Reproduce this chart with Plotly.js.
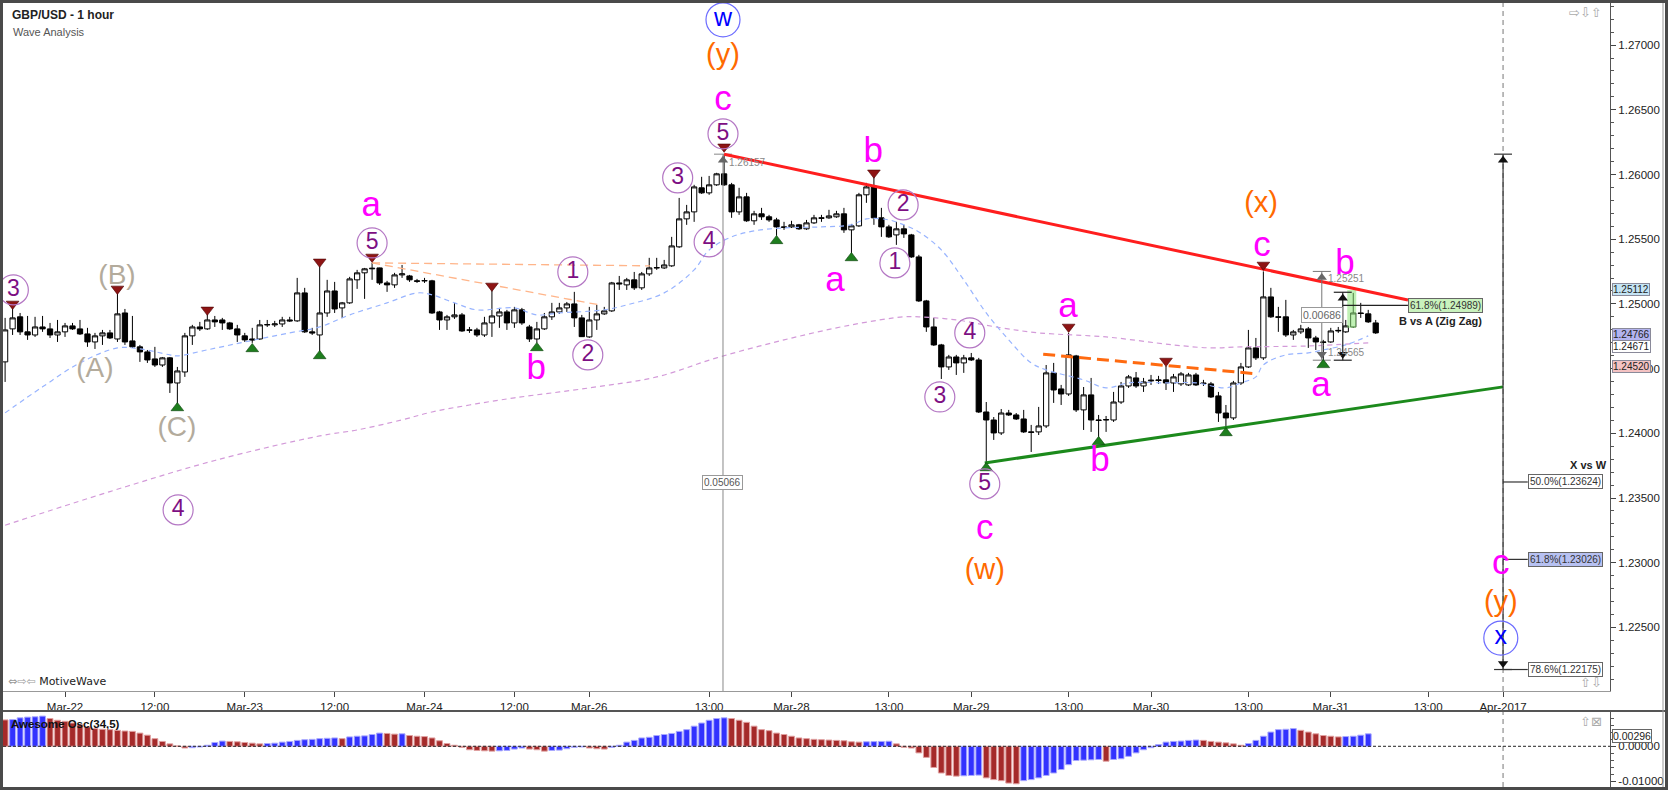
<!DOCTYPE html>
<html><head><meta charset="utf-8">
<script src="https://cdn.plot.ly/plotly-3.0.1.min.js"></script>
<style>html,body{margin:0;padding:0;background:#fff;overflow:hidden}#chart{width:1668px;height:790px}</style>
</head><body><div id="chart"></div>
<script>
// ---------- DATA ----------
const firstBar = -8; // bar index of first candle (hourly bars, 0 = Mar-22 00:00)
const opens = [1.24552,1.24807,1.24900,1.24784,1.24760,1.24822,1.24807,1.24760,1.24784,1.24830,1.24807,1.24768,1.24706,1.24753,1.24776,1.24729,1.24930,1.24714,1.24668,1.24629,1.24575,1.24528,1.24583,1.24389,1.24474,1.24753,1.24822,1.24807,1.24876,1.24876,1.24853,1.24807,1.24753,1.24729,1.24729,1.24838,1.24838,1.24845,1.24876,1.24869,1.25085,1.24784,1.24760,1.24930,1.25100,1.24969,1.25008,1.25186,1.25240,1.25271,1.25278,1.25162,1.25147,1.25224,1.25216,1.25178,1.25178,1.25178,1.24938,1.24876,1.24900,1.24915,1.24799,1.24799,1.24760,1.24853,1.24907,1.24938,1.24853,1.24954,1.24822,1.24729,1.24807,1.24900,1.24938,1.24969,1.25000,1.24892,1.24745,1.24876,1.24923,1.24946,1.25162,1.25147,1.25186,1.25124,1.25232,1.25278,1.25278,1.25294,1.25441,1.25657,1.25711,1.25897,1.25858,1.25920,1.26005,1.25920,1.25711,1.25827,1.25642,1.25696,1.25673,1.25649,1.25595,1.25595,1.25611,1.25580,1.25626,1.25665,1.25665,1.25673,1.25696,1.25572,1.25603,1.25843,1.25904,1.25665,1.25595,1.25533,1.25580,1.25533,1.25363,1.25023,1.24822,1.24683,1.24513,1.24590,1.24544,1.24583,1.24567,1.24165,1.24103,1.24003,1.24157,1.24142,1.24111,1.24011,1.24011,1.24057,1.24467,1.24343,1.24304,1.24598,1.24181,1.24297,1.24103,1.24103,1.24103,1.24242,1.24366,1.24428,1.24366,1.24405,1.24413,1.24413,1.24389,1.24382,1.24374,1.24451,1.24389,1.24382,1.24289,1.24157,1.24119,1.24389,1.24513,1.24660,1.24583,1.25054,1.24900,1.24900,1.24760,1.24784,1.24807,1.24737,1.24706,1.24706,1.24791,1.24784,1.24822,1.24930,1.24923,1.24853];
const highs = [1.24892,1.24969,1.24930,1.24907,1.24900,1.24907,1.24853,1.24876,1.24853,1.24853,1.24876,1.24815,1.24776,1.24799,1.24799,1.25108,1.24961,1.24907,1.24683,1.24644,1.24668,1.24590,1.24590,1.24513,1.24776,1.24838,1.24861,1.24930,1.24907,1.24892,1.24861,1.24838,1.24776,1.24815,1.24876,1.24876,1.24869,1.24900,1.24900,1.25201,1.25124,1.24815,1.25301,1.25186,1.25170,1.25015,1.25209,1.25263,1.25278,1.25317,1.25280,1.25178,1.25240,1.25301,1.25224,1.25193,1.25201,1.25186,1.24946,1.24915,1.25008,1.24930,1.24822,1.24815,1.24900,1.25124,1.24969,1.24954,1.24977,1.24969,1.24838,1.24861,1.24930,1.25008,1.25008,1.25015,1.25093,1.24915,1.24977,1.24992,1.24977,1.25170,1.25216,1.25201,1.25247,1.25247,1.25356,1.25356,1.25340,1.25518,1.25819,1.25765,1.25920,1.25982,1.25989,1.26013,1.26157,1.25935,1.25897,1.25858,1.25719,1.25742,1.25688,1.25665,1.25634,1.25642,1.25618,1.25649,1.25688,1.25688,1.25727,1.25719,1.25742,1.25618,1.25858,1.25935,1.25982,1.25742,1.25611,1.25634,1.25611,1.25541,1.25379,1.25031,1.24892,1.24691,1.24606,1.24606,1.24606,1.24621,1.24583,1.24242,1.24126,1.24188,1.24181,1.24157,1.24181,1.24065,1.24204,1.24528,1.24544,1.24374,1.24776,1.24606,1.24358,1.24428,1.24142,1.24134,1.24320,1.24397,1.24451,1.24474,1.24428,1.24451,1.24444,1.24521,1.24459,1.24474,1.24467,1.24467,1.24413,1.24397,1.24320,1.24219,1.24405,1.24544,1.24799,1.24737,1.25251,1.25124,1.24977,1.25031,1.24799,1.24838,1.24822,1.24753,1.24722,1.24815,1.24822,1.24876,1.25085,1.25008,1.24954,1.24876];
const lows = [1.24397,1.24760,1.24760,1.24722,1.24745,1.24784,1.24737,1.24706,1.24745,1.24799,1.24760,1.24668,1.24652,1.24683,1.24729,1.24706,1.24683,1.24660,1.24552,1.24544,1.24513,1.24513,1.24312,1.24204,1.24436,1.24683,1.24791,1.24799,1.24822,1.24799,1.24799,1.24706,1.24706,1.24699,1.24722,1.24822,1.24822,1.24822,1.24861,1.24861,1.24776,1.24760,1.24621,1.24900,1.24930,1.24892,1.25000,1.25116,1.25039,1.25186,1.25147,1.25093,1.25124,1.25201,1.25170,1.25162,1.25162,1.24923,1.24799,1.24799,1.24884,1.24784,1.24776,1.24745,1.24745,1.24745,1.24815,1.24799,1.24815,1.24838,1.24706,1.24699,1.24799,1.24876,1.24923,1.24938,1.24822,1.24745,1.24737,1.24799,1.24915,1.24938,1.25108,1.25108,1.25108,1.25108,1.25216,1.25263,1.25270,1.25286,1.25433,1.25611,1.25634,1.25850,1.25843,1.25912,1.25912,1.25665,1.25688,1.25634,1.25611,1.25649,1.25634,1.25526,1.25572,1.25587,1.25572,1.25572,1.25618,1.25634,1.25657,1.25665,1.25549,1.25363,1.25595,1.25781,1.25611,1.25518,1.25510,1.25456,1.25510,1.25356,1.25015,1.24784,1.24675,1.24420,1.24490,1.24451,1.24467,1.24559,1.24157,1.23763,1.23949,1.23987,1.24134,1.24103,1.24003,1.23856,1.23987,1.24041,1.24235,1.24219,1.24289,1.24165,1.24026,1.24011,1.23972,1.24011,1.24088,1.24227,1.24351,1.24351,1.24320,1.24374,1.24382,1.24335,1.24320,1.24366,1.24366,1.24366,1.24366,1.24273,1.24088,1.24049,1.24103,1.24374,1.24505,1.24567,1.24567,1.24892,1.24784,1.24745,1.24722,1.24768,1.24660,1.24644,1.24565,1.24699,1.24776,1.24776,1.24815,1.24892,1.24853,1.24768];
const closes = [1.24799,1.24892,1.24784,1.24760,1.24822,1.24807,1.24760,1.24784,1.24830,1.24807,1.24768,1.24706,1.24753,1.24776,1.24737,1.24923,1.24706,1.24668,1.24629,1.24567,1.24528,1.24583,1.24389,1.24482,1.24753,1.24822,1.24807,1.24876,1.24861,1.24853,1.24807,1.24760,1.24722,1.24722,1.24838,1.24840,1.24845,1.24876,1.24869,1.25085,1.24784,1.24776,1.24930,1.25100,1.24961,1.25008,1.25193,1.25240,1.25271,1.25275,1.25162,1.25147,1.25224,1.25232,1.25186,1.25175,1.25180,1.24930,1.24876,1.24900,1.24915,1.24791,1.24797,1.24760,1.24853,1.24907,1.24938,1.24853,1.24954,1.24853,1.24729,1.24807,1.24900,1.24938,1.24969,1.25000,1.24892,1.24747,1.24876,1.24923,1.24946,1.25162,1.25155,1.25186,1.25124,1.25232,1.25278,1.25280,1.25301,1.25448,1.25657,1.25711,1.25904,1.25858,1.25920,1.26005,1.25920,1.25711,1.25827,1.25642,1.25696,1.25673,1.25649,1.25595,1.25592,1.25611,1.25580,1.25626,1.25665,1.25662,1.25680,1.25696,1.25572,1.25603,1.25843,1.25904,1.25665,1.25595,1.25518,1.25580,1.25541,1.25363,1.25023,1.24822,1.24683,1.24513,1.24590,1.24544,1.24583,1.24567,1.24165,1.24103,1.24003,1.24157,1.24142,1.24111,1.24011,1.24008,1.24057,1.24467,1.24335,1.24304,1.24606,1.24181,1.24297,1.24103,1.24100,1.24106,1.24242,1.24366,1.24436,1.24366,1.24397,1.24410,1.24408,1.24389,1.24436,1.24459,1.24451,1.24374,1.24385,1.24281,1.24157,1.24119,1.24389,1.24513,1.24660,1.24583,1.25054,1.24900,1.24897,1.24760,1.24784,1.24807,1.24737,1.24706,1.24703,1.24791,1.24795,1.24830,1.24930,1.24926,1.24861,1.24776];

// Awesome Oscillator (34,5), bars from firstBar
const aoValues = [0.0076,0.0077,0.0082,0.0084,0.0085,0.0087,0.0080,0.0075,0.0072,
0.0067,0.0062,0.0056,0.0051,0.0049,0.0048,0.0046,0.0044,0.0043,0.0038,
0.0032,0.0022,0.0014,0.0007,0.0001,-0.0005,-0.0004,-0.0002,0.0003,0.0011,
0.0015,0.0014,0.0013,0.0011,0.0009,0.0007,0.0008,0.0009,0.0012,0.0014,
0.0017,0.0019,0.0020,0.0022,0.0023,0.0024,0.0022,0.0027,0.0029,0.0030,
0.0034,0.0038,0.0037,0.0035,0.0036,0.0031,0.0029,0.0028,0.0024,0.0016,
0.0008,0.0003,-0.0003,-0.0010,-0.0012,-0.0013,-0.0014,-0.0013,-0.0012,-0.0008,
-0.0005,-0.0008,-0.0010,-0.0014,-0.0012,-0.0011,-0.0007,-0.0003,-0.0002,-0.0005,
-0.0007,-0.0008,-0.0003,0.0003,0.0012,0.0017,0.0024,0.0026,0.0031,0.0034,
0.0037,0.0043,0.0048,0.0058,0.0067,0.0075,0.0080,0.0082,0.0080,0.0075,
0.0069,0.0058,0.0048,0.0045,0.0038,0.0034,0.0029,0.0024,0.0022,0.0020,
0.0019,0.0018,0.0017,0.0016,0.0013,0.0012,0.0013,0.00135,0.0014,0.00145,
0.0007,-0.0003,-0.0005,-0.0019,-0.0032,-0.0061,-0.0077,-0.0084,-0.0086,-0.0085,
-0.0084,-0.0083,-0.0091,-0.0096,-0.0099,-0.0106,-0.0108,-0.0099,-0.0096,-0.0091,
-0.0084,-0.0077,-0.0067,-0.0053,-0.0041,-0.0040,-0.0039,-0.0038,-0.0043,-0.0038,
-0.0036,-0.0029,-0.0019,-0.0010,-0.0004,0.0005,0.0012,0.0014,0.0015,0.0017,
0.0018,0.0017,0.0014,0.0012,0.0010,0.0007,0.0003,0.0008,0.0017,0.0029,
0.0041,0.0048,0.0049,0.0051,0.0046,0.0041,0.0036,0.0031,0.0029,0.0027,
0.0028,0.0029,0.0032,0.0036];

// moving averages (bar, price)
const maFastT = [-8,-3,2,7,10,14,15,19,24,30,34,38,43,47,49,52,55,60,63,66,72,75,80,84,86,89,92,96,101,105,107,110,112,114,117,120,123,126,129,131,136,139,142,147,151,155,157,159,160,163,166,168,171,174];
const maFastP = [1.24158,1.24359,1.24544,1.24660,1.24652,1.24606,1.24598,1.24645,1.24706,1.24776,1.24822,1.24915,1.25008,1.25085,1.25070,1.25008,1.24954,1.24969,1.24915,1.24930,1.24954,1.24992,1.25085,1.25263,1.25417,1.25518,1.25564,1.25587,1.25595,1.25611,1.25657,1.25649,1.25611,1.25556,1.25417,1.25185,1.24930,1.24722,1.24544,1.24490,1.24413,1.24351,1.24390,1.24390,1.24390,1.24351,1.24390,1.24436,1.24529,1.24606,1.24621,1.24645,1.24683,1.24753];
const maSlowT = [-8,6,20,34,39,45,49,54,60,70,79,87,96,105,112,114,119,125,130,139,148,153,157,166,174];
const maSlowP = [1.2329,1.2355,1.2379,1.2398,1.24026,1.24104,1.24165,1.24219,1.24274,1.24351,1.24436,1.24583,1.24722,1.24838,1.24900,1.24900,1.24876,1.24815,1.24776,1.24745,1.24683,1.24660,1.24668,1.24675,1.24699];

// time axis
const tickBars = [0,12,24,36,48,60,70,86,97,110,121,134,145,158,169,182,192];
const tickLabels = ['Mar-22','12:00','Mar-23','12:00','Mar-24','12:00','Mar-26','13:00','Mar-28','13:00','Mar-29','13:00','Mar-30','13:00','Mar-31','13:00','Apr-2017'];

// trend lines (bar, price)
const redLineT = [88, 179.3], redLineP = [1.26157, 1.25030];
const greenLineT = [122.8, 192], greenLineP = [1.23771, 1.24359];
const orangeLineT = [130.6, 159.3], orangeLineP = [1.24611, 1.24459];
const paleOrange1T = [41, 78.1], paleOrange1P = [1.25317, 1.25294];
const paleOrange2T = [41, 71.4], paleOrange2P = [1.25317, 1.24992];

// swing markers
const topMarkT = [-7,7,19,34,41,57,88,108,134,147,160];
const topMarkP = [1.25000,1.25116,1.24954,1.25325,1.25363,1.25139,1.26214,1.26013,1.24822,1.24559,1.25301];
const botMarkT = [15,25,34,63,95,105,123,138,155,168];
const botMarkP = [1.24196,1.24652,1.24598,1.24660,1.25487,1.25355,1.23732,1.23934,1.24003,1.24529];

// wave labels
const circT = [-6.9,15.1,41,67.8,69.8,81.8,86,87.85,111.9,110.8,120.8,116.8,122.8];
const circP = [1.25108,1.23408,1.25471,1.25247,1.24606,1.25974,1.25479,1.26314,1.25765,1.25317,1.24776,1.24281,1.23609];
const circText = ['3','4','5','1','2','3','4','5','2','1','4','3','5'];
const bigCircT = [87.85,191.7], bigCircP = [1.27195,1.22418], bigCircText = ['w','x'];
const minorT = [40.9,62.9,87.85,107.9,102.8,122.8,133.9,138.2,159.8,170.9,167.7,191.7];
const minorP = [1.25750,1.24490,1.26569,1.26167,1.25170,1.23254,1.24969,1.23779,1.25441,1.25301,1.24358,1.22983];
const minorText = ['a','b','c','b','a','c','a','b','c','b','a','c'];
const interT = [87.85,122.8,159.7,191.7], interP = [1.26909,1.22929,1.25765,1.22681];
const interText = ['(y)','(w)','(x)','(y)'];
const primT = [6.94,4.0,14.95], primP = [1.25209,1.24490,1.24030], primText = ['(B)','(A)','(C)'];

// measurements
const peakBar = 87.85, peakPrice = 1.26157, peakRange = '0.05066', peakRangeP = 1.23617;
const xwBar = 192, xwTop = 1.26157, xwBottom = 1.22175;
const fibP = [1.23624,1.23026,1.22175], fibText = ['50.0%(1.23624)','61.8%(1.23026)','78.6%(1.22175)'];
const zzBar = 167.8, zzTop = 1.25251, zzBottom = 1.24565, zzRange = '0.00686', zzRangeP = 1.24915;
const bBar = 170.6, bTop = 1.25090, bBottom = 1.24565, bLevel = 1.24989, bLabelBar = 179.3;
const bZoneT = [171.2,172.4], bZoneP = [1.24815,1.25108];
const priceMarks = [1.25112,1.24766,1.24671,1.24520];
const aoMark = 0.00296;

// ---------- LAYOUT HELPERS ----------
const W = 1668, H = 790, L = 3, R = 1610, T = 3, B = 787;
const X = px => (px - L) / (R - L);
const Y = py => (B - py) / (B - T);
const yMin = 1.22009, yMax = 1.27325;
const tMin = -8.28, tMax = 206.28;
const pxP = (yMax - yMin) / 688;   // price per pixel in main panel
const capW = 1.2;                  // half cap width in bars
const FONT = 'Liberation Sans, Arial, sans-serif';

const bars = opens.map((_, i) => firstBar + i);
const aoBars = aoValues.map((_, i) => firstBar + i);
const aoColors = aoValues.map((v, i) => (i > 0 && v > aoValues[i - 1]) ? '#3232ff' : '#a52a2a');
const aoLine = aoValues.map((v, i) => (i > 0 && v > aoValues[i - 1]) ? '#a8a8ff' : '#e0a0a0');

function seg(list) { const x = [], y = []; list.forEach(s => { x.push(s[0], s[2], null); y.push(s[1], s[3], null); }); return {x, y}; }

const traces = [];
traces.push({type:'scatter', mode:'lines', x:maSlowT, y:maSlowP, line:{color:'#d39ad9', width:1.2, dash:'5px,4px', shape:'spline'}, hoverinfo:'skip'});
traces.push({type:'scatter', mode:'lines', x:maFastT, y:maFastP, line:{color:'#98b4ff', width:1.2, dash:'5px,4px', shape:'spline'}, hoverinfo:'skip'});
traces.push({type:'scatter', mode:'lines', x:paleOrange1T.concat([null]).concat(paleOrange2T), y:paleOrange1P.concat([null]).concat(paleOrange2P), line:{color:'#ffb58a', width:1.3, dash:'8px,5px'}, hoverinfo:'skip'});
// peak vertical measure
const pv = seg([[peakBar, peakPrice, peakBar, yMin], [peakBar - capW, peakPrice, peakBar + capW, peakPrice]]);
traces.push({type:'scatter', mode:'lines', x:pv.x, y:pv.y, line:{color:'#888', width:1}, hoverinfo:'skip'});
traces.push({type:'candlestick', x:bars, open:opens, high:highs, low:lows, close:closes,
  increasing:{line:{color:'#000', width:1}, fillcolor:'#ffffff'},
  decreasing:{line:{color:'#000', width:1}, fillcolor:'#000000'},
  whiskerwidth:0, hoverinfo:'skip', xaxis:'x', yaxis:'y'});
// zone highlight
traces.push({type:'scatter', mode:'lines', x:[bZoneT[0],bZoneT[1],bZoneT[1],bZoneT[0],bZoneT[0]], y:[bZoneP[0],bZoneP[0],bZoneP[1],bZoneP[1],bZoneP[0]], fill:'toself', fillcolor:'rgba(140,230,120,0.55)', line:{width:0}, hoverinfo:'skip'});
// trend lines
traces.push({type:'scatter', mode:'lines', x:redLineT, y:redLineP, line:{color:'#ff1e1e', width:3}, hoverinfo:'skip'});
traces.push({type:'scatter', mode:'lines', x:greenLineT, y:greenLineP, line:{color:'#1c8a1c', width:3}, hoverinfo:'skip'});
traces.push({type:'scatter', mode:'lines', x:orangeLineT, y:orangeLineP, line:{color:'#ff6a10', width:3, dash:'12px,6px'}, hoverinfo:'skip'});
// zig zag measure (grey)
const zz = seg([[zzBar, zzTop, zzBar, zzBottom],[zzBar-capW, zzTop, zzBar+capW, zzTop],[zzBar-capW, zzBottom, zzBar+capW, zzBottom]]);
traces.push({type:'scatter', mode:'lines', x:zz.x, y:zz.y, line:{color:'#777', width:1}, hoverinfo:'skip'});
// B leg (black) and level line
const bl = seg([[bBar, bTop, bBar, bBottom],[bBar-capW, bTop, bBar+capW, bTop],[bBar-capW, bBottom, bBar+capW, bBottom],[bBar, bLevel, bLabelBar, bLevel]]);
traces.push({type:'scatter', mode:'lines', x:bl.x, y:bl.y, line:{color:'#222', width:1.2}, hoverinfo:'skip'});
// X vs W measure (black)
const xw = seg([[xwBar, xwTop, xwBar, xwBottom],[xwBar-capW, xwTop, xwBar+capW, xwTop],[xwBar-capW, xwBottom, xwBar+capW, xwBottom]].concat(fibP.map(p => [xwBar, p, xwBar + 3.3, p])));
traces.push({type:'scatter', mode:'lines', x:xw.x, y:xw.y, line:{color:'#333', width:1.2}, hoverinfo:'skip'});
// arrow heads
traces.push({type:'scatter', mode:'markers', x:[xwBar, bBar, peakBar, zzBar], y:[xwTop - 6*pxP, bTop - 6*pxP, peakPrice - 6*pxP, zzTop - 6*pxP], marker:{symbol:'triangle-up', size:9, color:['#111','#111','#666','#666']}, hoverinfo:'skip'});
traces.push({type:'scatter', mode:'markers', x:[xwBar, bBar, zzBar], y:[xwBottom + 6*pxP, bBottom + 6*pxP, zzBottom + 6*pxP], marker:{symbol:'triangle-down', size:9, color:['#111','#111','#666']}, hoverinfo:'skip'});
// swing markers
traces.push({type:'scatter', mode:'markers', x:topMarkT, y:topMarkP, marker:{symbol:'triangle-down', size:11, color:'#8e1414', line:{color:'#4a0000', width:0.6}}, hoverinfo:'skip'});
traces.push({type:'scatter', mode:'markers', x:botMarkT, y:botMarkP, marker:{symbol:'triangle-up', size:11, color:'#1e7e1e', line:{color:'#0a400a', width:0.6}}, hoverinfo:'skip'});
// wave labels
traces.push({type:'scatter', mode:'markers+text', x:circT, y:circP, text:circText, textposition:'middle center', marker:{symbol:'circle-open', size:30, color:'#b477c4', line:{width:1.2}}, textfont:{family:FONT, size:23, color:'#7d0f83'}, hoverinfo:'skip'});
traces.push({type:'scatter', mode:'markers+text', x:bigCircT, y:bigCircP, text:bigCircText, textposition:'middle center', marker:{symbol:'circle-open', size:34, color:'#6c6cff', line:{width:1.2}}, textfont:{family:FONT, size:25, color:'#0000ff'}, hoverinfo:'skip', cliponaxis:false});
traces.push({type:'scatter', mode:'text', x:minorT, y:minorP, text:minorText, textposition:'middle center', textfont:{family:FONT, size:35, color:'#ff00ff'}, hoverinfo:'skip', cliponaxis:false});
traces.push({type:'scatter', mode:'text', x:interT, y:interP, text:interText, textposition:'middle center', textfont:{family:FONT, size:29, color:'#ff6a00'}, hoverinfo:'skip', cliponaxis:false});
traces.push({type:'scatter', mode:'text', x:primT, y:primP, text:primText, textposition:'middle center', textfont:{family:FONT, size:28, color:'#b3ab9c'}, hoverinfo:'skip', cliponaxis:false});
// oscillator
traces.push({type:'bar', x:aoBars, y:aoValues, base:0, width:0.78, marker:{color:aoColors, line:{color:aoLine, width:1}}, xaxis:'x2', yaxis:'y2', hoverinfo:'skip'});

// ---------- ANNOTATIONS ----------
const ann = [];
function boxAnn(x, y, text, bg, xanchor, opts) {
  return Object.assign({xref:'x', yref:'y', x, y, text, showarrow:false, xanchor:xanchor || 'center', yanchor:'middle',
    bgcolor:bg, bordercolor:'#666', borderwidth:1, borderpad:1, font:{family:FONT, size:10, color:'#333'}}, opts || {});
}
ann.push({xref:'paper', yref:'paper', x:X(10), y:Y(15), text:'<b>GBP/USD - 1 hour</b>', showarrow:false, xanchor:'left', yanchor:'middle', font:{family:FONT, size:12, color:'#222'}});
ann.push({xref:'paper', yref:'paper', x:X(11), y:Y(32), text:'Wave Analysis', showarrow:false, xanchor:'left', yanchor:'middle', font:{family:FONT, size:11, color:'#555'}});
ann.push({xref:'paper', yref:'paper', x:X(6), y:Y(681), text:'<span style="color:#999">⇔⇨⇦</span> MotiveWave', showarrow:false, xanchor:'left', yanchor:'middle', font:{family:'DejaVu Sans, sans-serif', size:11, color:'#222'}});
ann.push({xref:'paper', yref:'paper', x:X(1604), y:Y(12), text:'⇨⇩⇧', showarrow:false, xanchor:'right', yanchor:'middle', font:{family:'DejaVu Sans, sans-serif', size:13, color:'#aaa'}});
ann.push({xref:'paper', yref:'paper', x:X(1604), y:Y(682), text:'⇧⇩', showarrow:false, xanchor:'right', yanchor:'middle', font:{family:'DejaVu Sans, sans-serif', size:13, color:'#aaa'}});
ann.push({xref:'paper', yref:'paper', x:X(1604), y:Y(721), text:'⇧⊠', showarrow:false, xanchor:'right', yanchor:'middle', font:{family:'DejaVu Sans, sans-serif', size:13, color:'#aaa'}});
ann.push({xref:'paper', yref:'paper', x:X(9), y:Y(724), text:'<b>Awesome Osc(34,5)</b>', showarrow:false, xanchor:'left', yanchor:'middle', font:{family:FONT, size:11.5, color:'#111'}});
ann.push(boxAnn(peakBar, peakRangeP, peakRange, '#ffffff', 'center', {font:{family:FONT, size:10, color:'#555'}, bordercolor:'#999'}));
ann.push({xref:'x', yref:'y', x:peakBar + 0.5, y:peakPrice - 8*pxP, text:'1.26157', showarrow:false, xanchor:'left', yanchor:'middle', font:{family:FONT, size:10, color:'#888'}});
ann.push({xref:'x', yref:'y', x:zzBar + 0.6, y:zzTop - 7*pxP, text:'1.25251', showarrow:false, xanchor:'left', yanchor:'middle', font:{family:FONT, size:10, color:'#888'}});
ann.push({xref:'x', yref:'y', x:zzBar + 0.6, y:zzBottom + 8*pxP, text:'1.24565', showarrow:false, xanchor:'left', yanchor:'middle', font:{family:FONT, size:10, color:'#888'}});
ann.push(boxAnn(zzBar, zzRangeP, zzRange, '#ffffff', 'center', {font:{family:FONT, size:10.5, color:'#666'}, bordercolor:'#999'}));
ann.push(boxAnn(bLabelBar, bLevel, '61.8%(1.24989)', '#c9f2bd', 'left'));
ann.push({xref:'x', yref:'y', x:bLabelBar + 4.3, y:bLevel - 16*pxP, text:'<b>B vs A (Zig Zag)</b>', showarrow:false, xanchor:'center', yanchor:'middle', font:{family:FONT, size:11, color:'#222'}});
const fibBg = ['#ffffff','#b7c1f2','#ffffff'];
fibP.forEach((p, i) => ann.push(boxAnn(xwBar + 3.3, p, fibText[i], fibBg[i], 'left')));
ann.push({xref:'x', yref:'y', x:xwBar + 14.2, y:fibP[0] + 17*pxP, text:'<b>X vs W</b>', showarrow:false, xanchor:'right', yanchor:'middle', font:{family:FONT, size:11, color:'#222'}});
const markBg = ['#c4e4f4','#b3b3ef','#ffffff','#f4c2c2'];
priceMarks.forEach((p, i) => ann.push({xref:'paper', yref:'y', x:X(1612), y:p, text:p.toFixed(5), showarrow:false, xanchor:'left', yanchor:'middle', bgcolor:markBg[i], bordercolor:'#8a8a9a', borderwidth:1, borderpad:0, font:{family:FONT, size:10, color:'#222'}}));
ann.push({xref:'paper', yref:'y2', x:X(1612), y:aoMark, text:aoMark.toFixed(5), showarrow:false, xanchor:'left', yanchor:'middle', bgcolor:'#ffffff', bordercolor:'#666', borderwidth:1, borderpad:0, font:{family:FONT, size:10.5, color:'#222'}});

// ---------- SHAPES ----------
const shapes = [
  {type:'line', xref:'x', yref:'y domain', x0:xwBar, x1:xwBar, y0:0, y1:1, line:{color:'#777', width:1, dash:'5px,4px'}, layer:'below'},
  {type:'line', xref:'x2', yref:'y2 domain', x0:xwBar, x1:xwBar, y0:0, y1:1, line:{color:'#777', width:1, dash:'5px,4px'}, layer:'below'},
  {type:'line', xref:'paper', yref:'y2', x0:0, x1:1, y0:0, y1:0, line:{color:'#222', width:1, dash:'3px,2px'}, layer:'above'},
  {type:'line', xref:'paper', yref:'paper', x0:X(0), x1:X(1668), y0:Y(711), y1:Y(711), line:{color:'#555', width:2}},
  {type:'line', xref:'paper', yref:'paper', x0:X(1663), x1:X(1663), y0:Y(0), y1:Y(790), line:{color:'#999', width:1}},
  {type:'rect', xref:'paper', yref:'paper', x0:X(0), x1:X(1668), y0:Y(3), y1:Y(0), fillcolor:'#4a4a4a', line:{width:0}},
  {type:'rect', xref:'paper', yref:'paper', x0:X(0), x1:X(3), y0:Y(790), y1:Y(0), fillcolor:'#4a4a4a', line:{width:0}},
  {type:'rect', xref:'paper', yref:'paper', x0:X(0), x1:X(1668), y0:Y(790), y1:Y(787), fillcolor:'#4a4a4a', line:{width:0}},
  {type:'rect', xref:'paper', yref:'paper', x0:X(1665), x1:X(1668), y0:Y(790), y1:Y(0), fillcolor:'#4a4a4a', line:{width:0}}
];

const layout = {
  width:W, height:H, margin:{l:L, r:W - R, t:T, b:H - B, pad:0},
  paper_bgcolor:'#ffffff', plot_bgcolor:'#ffffff', showlegend:false,
  boxgap:0.3, boxgroupgap:0, bargap:0,
  font:{family:FONT, size:11, color:'#222'},
  xaxis:{domain:[0,1], range:[tMin,tMax], anchor:'y', tickmode:'array', tickvals:tickBars, ticktext:tickLabels,
    ticks:'outside', ticklen:5, tickcolor:'#444', showgrid:false, zeroline:false, showline:true, linecolor:'#999',
    rangeslider:{visible:false}, tickfont:{family:FONT, size:11.5, color:'#222'}, fixedrange:true},
  yaxis:{domain:[Y(691),1], range:[yMin,yMax], side:'right', anchor:'x', tick0:1.25, dtick:0.005, tickformat:'.5f',
    ticks:'outside', ticklen:5, tickcolor:'#444', showgrid:false, zeroline:false, showline:true, linecolor:'#555',
    minor:{dtick:0.001, ticks:'outside', ticklen:3, tickcolor:'#555', showgrid:false},
    tickfont:{family:FONT, size:11.5, color:'#222'}, fixedrange:true},
  xaxis2:{domain:[0,1], range:[tMin,tMax], anchor:'y2', showticklabels:false, ticks:'', showgrid:false, zeroline:false, showline:false, fixedrange:true},
  yaxis2:{domain:[0,Y(712)], range:[-0.01173,0.00988], side:'right', anchor:'x2', tickmode:'array', tickvals:[0,-0.01], ticktext:['0.00000','-0.01000'],
    ticks:'outside', ticklen:5, tickcolor:'#444', showgrid:false, zeroline:false, showline:true, linecolor:'#555',
    minor:{dtick:0.002, ticks:'outside', ticklen:3, tickcolor:'#555', showgrid:false},
    tickfont:{family:FONT, size:11.5, color:'#222'}, fixedrange:true},
  annotations:ann, shapes:shapes
};

Plotly.newPlot('chart', traces, layout, {staticPlot:true, displayModeBar:false});
</script></body></html>
